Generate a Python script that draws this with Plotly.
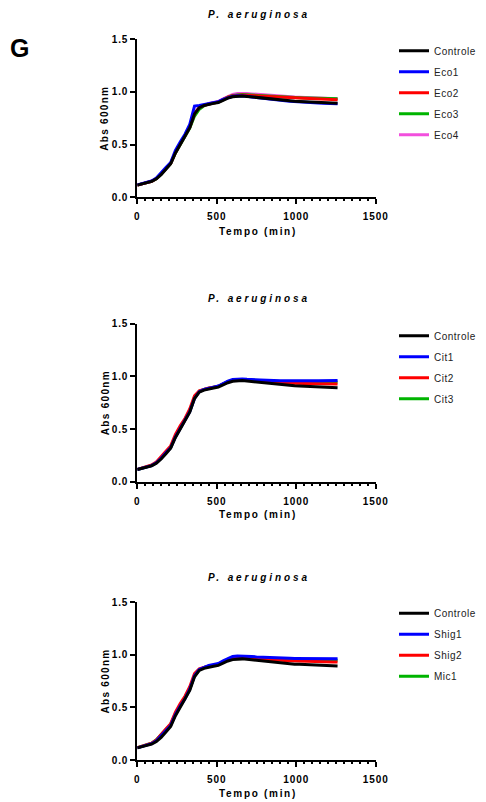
import plotly.graph_objects as go

# ---------------- data ----------------
TEMPO = [0, 30, 60, 90, 120, 150, 180, 210, 240, 270, 300, 330, 360, 390, 420, 450, 480, 510,
         540, 570, 600, 630, 660, 690, 720, 750, 780, 810, 840, 870, 900, 930, 960, 990, 1020,
         1050, 1080, 1110, 1140, 1170, 1200, 1230, 1260]

CONTROLE = [0.115, 0.128, 0.140, 0.150, 0.175, 0.215, 0.265, 0.318, 0.420, 0.500, 0.570, 0.660,
            0.790, 0.850, 0.870, 0.883, 0.890, 0.898, 0.920, 0.940, 0.953, 0.960, 0.960, 0.956,
            0.951, 0.946, 0.941, 0.936, 0.931, 0.926, 0.921, 0.917, 0.913, 0.910, 0.908, 0.906,
            0.904, 0.902, 0.900, 0.898, 0.896, 0.894, 0.892]

ECO1 = [0.118, 0.130, 0.143, 0.155, 0.182, 0.228, 0.282, 0.330, 0.445, 0.525, 0.598, 0.690,
        0.865, 0.870, 0.880, 0.890, 0.898, 0.906, 0.928, 0.946, 0.957, 0.962, 0.962, 0.957,
        0.951, 0.945, 0.939, 0.934, 0.929, 0.924, 0.919, 0.915, 0.911, 0.907, 0.904, 0.901,
        0.898, 0.896, 0.894, 0.892, 0.890, 0.888, 0.886]
ECO2 = [0.115, 0.127, 0.140, 0.152, 0.178, 0.220, 0.272, 0.320, 0.425, 0.505, 0.575, 0.665,
        0.795, 0.852, 0.872, 0.886, 0.894, 0.903, 0.926, 0.948, 0.962, 0.968, 0.969, 0.967,
        0.964, 0.961, 0.958, 0.955, 0.952, 0.950, 0.948, 0.946, 0.944, 0.942, 0.940, 0.938,
        0.936, 0.934, 0.932, 0.930, 0.928, 0.926, 0.924]
ECO3 = [0.115, 0.126, 0.139, 0.151, 0.176, 0.218, 0.270, 0.318, 0.420, 0.500, 0.568, 0.655,
        0.770, 0.835, 0.868, 0.885, 0.893, 0.902, 0.926, 0.950, 0.965, 0.972, 0.973, 0.971,
        0.968, 0.965, 0.962, 0.959, 0.956, 0.954, 0.952, 0.950, 0.948, 0.946, 0.944, 0.942,
        0.941, 0.940, 0.939, 0.938, 0.937, 0.936, 0.935]
ECO4 = [0.115, 0.127, 0.140, 0.152, 0.177, 0.220, 0.272, 0.320, 0.425, 0.505, 0.575, 0.665,
        0.795, 0.852, 0.874, 0.890, 0.898, 0.908, 0.934, 0.958, 0.975, 0.983, 0.985, 0.983,
        0.980, 0.976, 0.972, 0.968, 0.964, 0.961, 0.958, 0.955, 0.952, 0.950, 0.948, 0.946,
        0.944, 0.942, 0.940, 0.938, 0.936, 0.935, 0.934]

CIT1 = [0.115, 0.128, 0.141, 0.153, 0.180, 0.222, 0.274, 0.322, 0.425, 0.505, 0.575, 0.665,
        0.790, 0.855, 0.876, 0.890, 0.898, 0.908, 0.932, 0.955, 0.970, 0.975, 0.975, 0.972,
        0.969, 0.966, 0.964, 0.962, 0.960, 0.959, 0.958, 0.958, 0.957, 0.957, 0.957, 0.957,
        0.958, 0.958, 0.959, 0.959, 0.960, 0.960, 0.960]
CIT2 = [0.117, 0.130, 0.145, 0.158, 0.188, 0.235, 0.290, 0.340, 0.450, 0.530, 0.600, 0.690,
        0.815, 0.862, 0.878, 0.890, 0.898, 0.906, 0.928, 0.948, 0.960, 0.965, 0.965, 0.962,
        0.958, 0.954, 0.950, 0.947, 0.944, 0.941, 0.939, 0.937, 0.935, 0.934, 0.933, 0.932,
        0.931, 0.930, 0.930, 0.929, 0.929, 0.928, 0.928]
CIT3 = [0.116, 0.129, 0.142, 0.155, 0.183, 0.226, 0.280, 0.328, 0.432, 0.512, 0.582, 0.672,
        0.800, 0.858, 0.877, 0.890, 0.897, 0.906, 0.929, 0.950, 0.963, 0.968, 0.968, 0.966,
        0.963, 0.960, 0.957, 0.955, 0.953, 0.951, 0.950, 0.949, 0.948, 0.948, 0.947, 0.947,
        0.947, 0.947, 0.947, 0.947, 0.947, 0.947, 0.947]

SHIG1 = [0.115, 0.128, 0.142, 0.155, 0.182, 0.226, 0.280, 0.328, 0.432, 0.512, 0.582, 0.672,
         0.800, 0.860, 0.882, 0.897, 0.906, 0.916, 0.942, 0.966, 0.982, 0.988, 0.988, 0.985,
         0.982, 0.979, 0.976, 0.973, 0.971, 0.969, 0.967, 0.966, 0.965, 0.964, 0.964, 0.963,
         0.963, 0.963, 0.962, 0.962, 0.962, 0.962, 0.962]
SHIG2 = [0.117, 0.131, 0.146, 0.160, 0.190, 0.238, 0.294, 0.345, 0.455, 0.535, 0.605, 0.695,
         0.820, 0.865, 0.880, 0.892, 0.900, 0.908, 0.931, 0.952, 0.966, 0.972, 0.972, 0.969,
         0.966, 0.962, 0.958, 0.955, 0.952, 0.949, 0.946, 0.944, 0.942, 0.940, 0.938, 0.936,
         0.935, 0.934, 0.933, 0.932, 0.931, 0.930, 0.930]
MIC1 = [0.116, 0.130, 0.146, 0.160, 0.192, 0.242, 0.300, 0.340, 0.440, 0.518, 0.588, 0.675,
        0.800, 0.855, 0.878, 0.892, 0.900, 0.909, 0.933, 0.955, 0.968, 0.973, 0.973, 0.971,
        0.968, 0.965, 0.962, 0.959, 0.957, 0.955, 0.953, 0.952, 0.951, 0.950, 0.950, 0.949,
        0.949, 0.949, 0.948, 0.948, 0.948, 0.948, 0.948]

PANEL_TITLE = "P. aeruginosa"
PANEL_LETTER = "G"
X_TITLE = "Tempo (min)"
Y_TITLE = "Abs 600nm"
X_TICKS = [0, 500, 1000, 1500]
X_TICK_LABELS = ["0", "500", "1000", "1500"]
Y_TICKS = [0, 0.5, 1.0, 1.5]
Y_TICK_LABELS = ["0.0", "0.5", "1.0", "1.5"]

PANEL1_NAMES = ["Controle", "Eco1", "Eco2", "Eco3", "Eco4"]
PANEL1_SERIES = [CONTROLE, ECO1, ECO2, ECO3, ECO4]
PANEL2_NAMES = ["Controle", "Cit1", "Cit2", "Cit3"]
PANEL2_SERIES = [CONTROLE, CIT1, CIT2, CIT3]
PANEL3_NAMES = ["Controle", "Shig1", "Shig2", "Mic1"]
PANEL3_SERIES = [CONTROLE, SHIG1, SHIG2, MIC1]

COLORS = ["#000000", "#0000FF", "#FF0000", "#00B400", "#F24FDD"]

for s in PANEL1_SERIES + PANEL2_SERIES + PANEL3_SERIES:
    assert len(s) == len(TEMPO)

# ---------------- figure ----------------
# the page body has an 8px margin, so the figure is drawn 8px smaller and
# all reference pixel positions are shifted by that offset
OFF = 8
W, H = 486 - OFF, 802 - OFF
FONT = "Arial, Liberation Sans, sans-serif"


def spaced(text, sp):
    return f'<span style="letter-spacing:{sp}px">{text}</span>'


def py(pix):  # reference pixel from top -> paper y
    return 1 - (pix - OFF) / H


def px(pix):
    return (pix - OFF) / W


X_DOMAIN = [px(137.3), px(375.7)]
PLOT_TOP = [39, 323.7, 602]
PLOT_BOTTOM = [197.3, 481.7, 760]
TITLE_Y = [14, 298, 577]
XTITLE_Y = [232, 514, 793]
LEGEND_TOP = [36.2, 321.2, 598.8]

panels = [(PANEL1_NAMES, PANEL1_SERIES), (PANEL2_NAMES, PANEL2_SERIES), (PANEL3_NAMES, PANEL3_SERIES)]

fig = go.Figure()
annotations = []
layout = dict(
    width=W, height=H,
    margin=dict(l=0, r=0, t=0, b=0, autoexpand=False),
    paper_bgcolor="white", plot_bgcolor="white",
    font=dict(family=FONT, color="#000000"),
    showlegend=True,
)

for i, (names, series) in enumerate(panels):
    suf = "" if i == 0 else str(i + 1)
    leg = "legend" if i == 0 else f"legend{i + 1}"
    # draw later series first so Controle sits on top
    for j in reversed(range(len(names))):
        fig.add_trace(go.Scatter(
            x=TEMPO, y=series[j], mode="lines",
            name=spaced(names[j], 0.5),
            line=dict(color=COLORS[j], width=3),
            xaxis="x" + suf, yaxis="y" + suf,
            legend=leg, legendgroup=f"g{i}_{j}", legendrank=j + 1,
            hoverinfo="skip",
        ))
    layout["xaxis" + suf] = dict(
        domain=X_DOMAIN, anchor="y" + suf, range=[0, 1500],
        showgrid=False, zeroline=False, showline=True, linecolor="#000", linewidth=2,
        ticks="outside", ticklen=5, tickwidth=2, tickcolor="#000",
        tickvals=X_TICKS, ticktext=[spaced(t, 0.9) for t in X_TICK_LABELS],
        tickfont=dict(family=FONT, size=10, color="#000", weight="bold"),
        ticklabelstandoff=4,
        minor=dict(ticks="outside", dtick=50, ticklen=2, tickwidth=1.5, tickcolor="#000"),
        fixedrange=True,
    )
    layout["yaxis" + suf] = dict(
        domain=[py(PLOT_BOTTOM[i]), py(PLOT_TOP[i])], anchor="x" + suf, range=[0, 1.5],
        showgrid=False, zeroline=False, showline=True, linecolor="#000", linewidth=2,
        ticks="outside", ticklen=5, tickwidth=2, tickcolor="#000",
        tickvals=Y_TICKS, ticktext=[spaced(t, 0.9) for t in Y_TICK_LABELS],
        tickfont=dict(family=FONT, size=10, color="#000", weight="bold"),
        fixedrange=True,
    )
    layout[leg] = dict(
        x=px(394), xanchor="left", y=py(LEGEND_TOP[i]), yanchor="top",
        bgcolor="rgba(0,0,0,0)", borderwidth=0, traceorder="grouped",
        tracegroupgap=2, font=dict(family=FONT, size=10, color="#222"),
    )
    annotations.append(dict(
        text=spaced(PANEL_TITLE, 2.9), xref="paper", yref="paper",
        x=px(206), y=py(TITLE_Y[i]), xanchor="left", yanchor="middle", showarrow=False,
        font=dict(family=FONT, size=10, color="#000", weight="bold", style="italic"),
    ))
    annotations.append(dict(
        text=spaced(X_TITLE, 1.7), xref="paper", yref="paper",
        x=px(217), y=py(XTITLE_Y[i]), xanchor="left", yanchor="middle", showarrow=False,
        font=dict(family=FONT, size=10, color="#000", weight="bold"),
    ))
    annotations.append(dict(
        text=spaced(Y_TITLE, 1.3), xref="paper", yref="paper", textangle=-90,
        x=px(105), y=py(PLOT_BOTTOM[i] - 44), xanchor="center", yanchor="bottom",
        showarrow=False,
        font=dict(family=FONT, size=10, color="#000", weight="bold"),
    ))

annotations.append(dict(
    text=PANEL_LETTER, xref="paper", yref="paper", x=px(19.5), y=py(47.5),
    xanchor="center", yanchor="middle", showarrow=False,
    font=dict(family=FONT, size=25, color="#000", weight="bold"),
))
layout["annotations"] = annotations
fig.update_layout(**layout)

fig.write_html("out.html")
